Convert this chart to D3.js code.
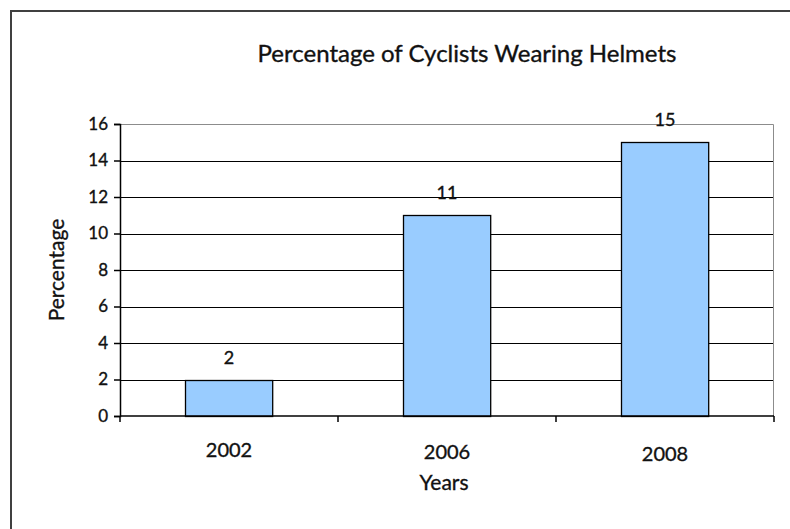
<!DOCTYPE html>
<html>
<head>
<meta charset="utf-8">
<script src="https://cdn.jsdelivr.net/npm/d3@7"></script>
<style>
  body { margin: 0; background: #fff; }
  text { font-family: Lato, "Open Sans", sans-serif; fill: #111; stroke: #111; stroke-width: 0.35px; }
</style>
</head>
<body>
<div id="chart"></div>
<script>
const years = ["2002", "2006", "2008"];
const percentages = [2, 11, 15];
const yTicks = [0, 2, 4, 6, 8, 10, 12, 14, 16];

const width = 790, height = 529;
const margin = { top: 124, right: 16, bottom: 113, left: 120 };
const plotW = width - margin.left - margin.right;
const plotH = height - margin.top - margin.bottom;

const svg = d3.select("#chart")
  .append("svg")
  .attr("width", width)
  .attr("height", height);

// outer chart frame (runs off the right and bottom of the picture)
svg.append("path")
  .attr("d", `M11,${height + 5} V11 H${width + 5}`)
  .attr("fill", "none")
  .attr("stroke", "#404040")
  .attr("stroke-width", 2);

const g = svg.append("g")
  .attr("transform", `translate(${margin.left},${margin.top})`);

const x = d3.scaleBand().domain(years).range([0, plotW]).paddingInner(0.6).paddingOuter(0.3);
const y = d3.scaleLinear().domain([0, 16]).range([plotH, 0]);

// gridlines
g.selectAll(".grid")
  .data(yTicks.filter(d => d > 0 && d < 16))
  .enter()
  .append("line")
  .attr("x1", 0).attr("x2", plotW)
  .attr("y1", d => Math.round(y(d)) + 0.5)
  .attr("y2", d => Math.round(y(d)) + 0.5)
  .attr("stroke", "#000");

// plot area border (top and right in grey)
g.append("path")
  .attr("d", `M0,0.5 H${plotW - 0.5} V${plotH}`)
  .attr("fill", "none")
  .attr("stroke", "#8c8c8c");

// bars
g.selectAll(".bar")
  .data(percentages)
  .enter()
  .append("rect")
  .attr("x", (d, i) => Math.round(x(years[i])) + 0.5)
  .attr("y", d => Math.round(y(d)) + 0.5)
  .attr("width", x.bandwidth())
  .attr("height", d => Math.round(y(0)) - Math.round(y(d)))
  .attr("fill", "#99ccff")
  .attr("stroke", "#000")
  .attr("stroke-width", 1.3);

// value labels
g.selectAll(".val")
  .data(percentages)
  .enter()
  .append("text")
  .attr("x", (d, i) => x(years[i]) + x.bandwidth() / 2)
  .attr("y", d => y(d) - 16)
  .attr("text-anchor", "middle")
  .style("font-size", "18px")
  .text(d => d);

// y axis
const yAxis = g.append("g")
  .call(d3.axisLeft(y).tickValues(yTicks).tickSize(6).tickPadding(6));
yAxis.select(".domain").attr("stroke", "#000").attr("stroke-width", 1.5);
yAxis.selectAll(".tick line").attr("stroke", "#000").attr("stroke-width", 1.5);
yAxis.selectAll(".tick text")
  .style("font-size", "17px")
  .style("font-family", "Lato, sans-serif")
  .attr("fill", "#111");

// x axis: ticks sit on category boundaries
const xAxisG = g.append("g").attr("transform", `translate(0,${plotH})`);
xAxisG.append("line")
  .attr("x1", 0).attr("x2", plotW)
  .attr("stroke", "#000").attr("stroke-width", 1.5);
const step = plotW / years.length;
xAxisG.selectAll(".xtick")
  .data(d3.range(years.length + 1))
  .enter()
  .append("line")
  .attr("x1", d => d * step).attr("x2", d => d * step)
  .attr("y1", 0).attr("y2", 6)
  .attr("stroke", "#000").attr("stroke-width", 1.5);
xAxisG.selectAll(".xlabel")
  .data(years)
  .enter()
  .append("text")
  .attr("x", d => x(d) + x.bandwidth() / 2)
  .attr("y", (d, i) => 41 + i * 2)
  .attr("text-anchor", "middle")
  .style("font-size", "20px")
  .text(d => d);

// axis titles
svg.append("text")
  .attr("x", 444).attr("y", 490)
  .attr("text-anchor", "middle")
  .style("font-size", "21px")
  .text("Years");

svg.append("text")
  .attr("transform", "translate(64,270) rotate(-90)")
  .attr("text-anchor", "middle")
  .style("font-size", "21px")
  .text("Percentage");

// chart title
svg.append("text")
  .attr("x", 467).attr("y", 62)
  .attr("text-anchor", "middle")
  .style("font-size", "24px")
  .text("Percentage of Cyclists Wearing Helmets");
</script>
</body>
</html>
